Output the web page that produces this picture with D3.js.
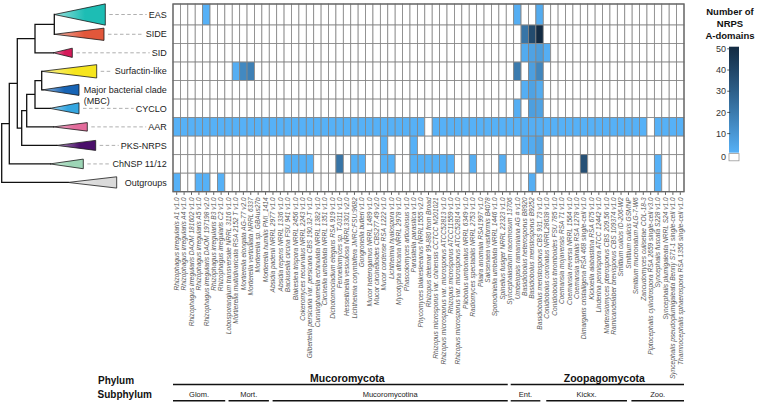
<!DOCTYPE html>
<html><head><meta charset="utf-8">
<script src="https://cdn.jsdelivr.net/npm/d3@7"></script>
<style>
body{margin:0;background:#fff}
svg{display:block;font-family:"Liberation Sans",Arial,Helvetica,sans-serif}
</style>
</head><body>
<svg id="chart" width="757" height="404"></svg>
<script>
// ---------------- DATA ----------------
const clades = ["EAS","SIDE","SID","Surfactin-like","Major bacterial clade|(MBC)","CYCLO","AAR","PKS-NRPS","ChNSP 11/12","Outgroups"];
const cladeColors = ["#1dbdb4","#e2573b","#d51b5a","#f6e51d","#1764b5","#35a6e0","#e36c9c","#4a0f6a","#9dd5b6","#dadada"];

const genomes = [
"Rhizophagus irregularis A1 v1.0","Rhizophagus irregularis A4 v1.0","Rhizophagus irregularis DAOM 181602 v1.0",
"Rhizophagus irregularis A5 v1.0","Rhizophagus irregularis DAOM 197198 v2.0","Rhizophagus irregularis B3 v1.0",
"Rhizophagus irregularis C2 v1.0","Lobosporangium transversale NRRL 3116 v1.0","Mortierella multidivaricata RSA 2152 T v1.0",
"Mortierella elongata AG-77 v2.0","Mortierella verticillata NRRL 6337","Mortierella sp. GBAus27b",
"Mortierella humilis PMI_1414","Absidia padenii NRRL 2977 v1.0","Absidia repens NRRL 1336 v1.0",
"Backusella circina FSU 941 v1.0","Blakeslea trispora NRRL 2456 v1.0","Cokeromyces recurvatus NRRL 2243 v1.0",
"Gilbertella persicaria var. persicaria CBS 190.32-T v1.0","Cunninghamella echinulata NRRL 1382 v1.0","Circinella umbellata NRRL 1351 v1.0",
"Dichotomocladium elegans RSA 919 v1.0","Fennellomyces sp. T-0311 v1.0","Hesseltinella vesiculosa NRRL3301 v2.0",
"Lichtheimia corymbifera JMRC:FSU:9682","Gongronella butleri v1.0","Mucor heterogamus NRRL 1489 v1.0",
"Mucor circinelloides CBS277.49 v2.0","Mucor cordense RSA 1222 v1.0","Lichtheimia hyalospora v1.0",
"Mycotypha africana NRRL 2978 v1.0","Phascolomyces articulosus v1.0","Parasitella parasitica v1.0",
"Phycomyces blakesleeanus NRRL1555 v2.0","Rhizopus delemar 99-880 from Broad","Rhizopus microsporus var. chinensis CCTCC M201021",
"Rhizopus microsporus var. microsporus ATCC52813 v1.0","Rhizopus microsporus ATCC11559 v1.0","Rhizopus microsporus var. microsporus ATCC52814 v1.0",
"Pilobolus umbonatus NRRL 6349 v1.0","Radiomyces spectabilis NRRL 2753 v1.0","Pilaira anomala RSA1997 v1.0",
"Saksenaea vasiformis B4078","Sporodiniella umbellata NRRL 1446 v1.0","Spinellus fusiger NRRL 22323 v1.0",
"Syncephalastrum racemosum 13706","Umbelopsis ramanniana AG # v1.0","Basidiobolus heterosporus B8920",
"Basidiobolus meristosporus B9252","Basidiobolus meristosporus CBS 931.73 v1.0","Conidiobolus coronatus NRRL28638 v1.0",
"Conidiobolus thromboides FSU 785 v1.0","Coemansia mojavensis RSA 71 v1.0","Coemansia reversa NRRL 1564 v1.0",
"Coemansia spiralis RSA 1278 v1.0","Dimargaris cristalligena RSA 468 single-cell v1.0","Kickxella alabastrina RSA 675 v1.0",
"Linderina pennispora ATCC 12442 v1.0","Martensiomyces pterosporus CBS 209.56 v1.0","Ramicandelaber brevisporus CBS 109374 v1.0",
"Smittium culicis ID-206-W2","Smittium culicis GSMNP","Smittium mucronatum ALG-7-W6",
"Zancudomyces culisetae COL-18-3","Piptocephalis cylindrospora RSA 2659 single-cell v3.0","Syncephalis fuscata S228 v1.0",
"Syncephalis plumigaleata NRRL S24 v1.0","Syncephalis pseudoplumigaleata Benny S71-1 single-cell v1.0","Thamnocephalis sphaerospora RSA 1356 single-cell v1.0"
];

// number of NRPS A-domains per clade (rows) and genome (columns, 69 each)
const valEAS   = [0,0,0,0,1,0,0,0,0,0, 0,0,0,0,0,0,0,0,0,0, 0,0,0,0,0,0,0,0,0,0, 0,0,0,0,0,0,0,0,0,0, 0,0,0,0,0,0,2,0,0,3, 0,0,0,0,0,0,0,0,0,0, 0,0,0,0,0,0,0,0,0];
const valSIDE  = [0,0,0,0,0,0,0,0,0,0, 0,0,0,0,0,0,0,0,0,0, 0,0,0,0,0,0,0,0,0,0, 0,0,0,0,0,0,0,0,0,0, 0,0,0,0,0,0,0,22,38,51, 0,0,0,0,0,0,0,0,0,0, 0,0,0,0,0,0,0,0,0];
const valSID   = [0,0,0,0,0,0,0,0,0,0, 0,0,0,0,0,0,0,0,0,0, 0,0,0,0,0,0,0,0,0,0, 0,0,0,0,0,0,0,0,0,0, 0,0,0,0,0,0,0,3,6,8, 2,0,0,0,0,0,0,0,0,0, 0,0,0,0,0,0,0,0,0];
const valSURF  = [0,0,0,0,0,0,0,0,2,15, 18,0,0,0,0,0,0,0,0,0, 0,0,0,0,0,0,0,0,0,0, 0,0,0,0,0,0,0,0,0,0, 0,0,0,0,0,0,20,0,7,16, 0,0,0,0,0,0,0,0,0,0, 0,0,0,0,0,0,0,0,0];
const valMBC   = [0,0,0,0,0,0,0,0,0,0, 0,0,0,0,0,0,0,0,0,0, 0,0,0,0,0,0,0,0,0,0, 0,0,0,0,0,0,0,0,0,0, 0,0,0,0,0,0,0,2,6,3, 0,0,0,0,0,0,0,0,0,0, 0,0,0,0,0,0,0,0,0];
const valCYCLO = [0,0,0,0,0,0,0,0,0,0, 0,0,0,0,0,0,0,0,0,0, 0,0,0,0,0,0,0,0,0,0, 0,0,0,0,0,0,0,0,0,0, 0,0,0,0,0,0,2,0,7,6, 0,0,0,0,0,0,0,0,0,0, 0,0,0,0,0,0,0,0,0];
const valAAR   = [1,1,1,1,1,1,1,1,1,1, 1,1,1,1,1,1,1,1,1,1, 1,1,1,1,1,1,1,1,1,1, 1,1,1,1,0,1,1,1,1,1, 1,1,1,1,1,1,1,2,2,2, 1,1,1,1,1,1,1,1,1,1, 1,1,1,1,0,1,1,1,1];
const valPKS   = [0,0,0,0,0,0,0,0,0,0, 0,0,0,0,0,0,0,0,0,0, 0,0,0,0,0,0,0,0,1,0, 0,0,1,0,0,0,0,0,0,0, 0,0,0,0,0,0,0,2,3,6, 0,0,0,0,0,0,0,0,0,0, 0,0,0,0,0,0,0,0,0];
const valCHNSP = [0,0,0,0,0,0,0,0,0,0, 0,0,0,0,0,1,1,1,1,0, 0,0,22,0,1,1,0,0,1,1, 0,0,1,1,1,1,1,1,0,0, 2,0,0,0,2,0,0,0,0,6, 0,0,0,0,0,36,0,0,0,0, 0,0,0,0,0,1,0,0,0];
const valOUT   = [1,0,0,1,1,0,1,0,0,0, 0,0,0,0,0,0,0,0,0,0, 0,0,0,0,0,0,0,0,0,0, 0,0,0,0,0,0,0,0,0,0, 0,0,0,0,0,0,0,0,2,0, 0,0,0,0,0,0,0,0,0,0, 0,0,0,0,0,1,0,0,0];
const rowValues = [valEAS,valSIDE,valSID,valSURF,valMBC,valCYCLO,valAAR,valPKS,valCHNSP,valOUT];

const legendTicks = [0,10,20,30,40,50];
const legendTitle = ["Number of","NRPS","A-domains"];

const phyla = ["Mucoromycota","Zoopagomycota"];
const phylumSpans = [[0,45.2],[45.6,69]];          // in genome-column units
const subphyla = ["Glom.","Mort.","Mucoromycotina","Ent.","Kickx.","Zoo."];
const subphylumSpans = [[0,7.05],[7.5,12.95],[13.45,45.2],[45.6,49.6],[50.4,61.3],[61.9,69]];

// tree: branch lengths (len), collapsed clade depth (span) and relative clade height (size)
const tree = {len:0, children:[
  {len:7.6, children:[
    {len:8, children:[
      {len:17.7, children:[
        {len:19.3, children:[
          {clade:0, len:0, span:51, size:1.15},
          {clade:1, len:0, span:49.7, size:0.66}]},
        {clade:2, len:18.3, span:19, size:0.5}]},
      {len:4.4, children:[
        {len:5, children:[
          {len:8.3, children:[
            {len:6.7, children:[
              {clade:3, len:0, span:55, size:0.72},
              {clade:4, len:1, span:36.3, size:0.6}]},
            {clade:5, len:15, span:29, size:0.6}]},
          {clade:6, len:26.6, span:34, size:0.46}]},
        {clade:7, len:35, span:39, size:0.54}]}]},
    {clade:8, len:40.7, span:33.3, size:0.52}]},
  {clade:9, len:66.3, span:48.7, size:0.61}]};

// ---------------- CHART ----------------
const svg = d3.select("#chart");
const defs = svg.append("defs");

const hmLeft = 173, hmRight = 684, hmTop = 4, hmBottom = 191.7;
const x = d3.scaleBand().domain(d3.range(genomes.length)).range([hmLeft, hmRight]);
const y = d3.scaleBand().domain(d3.range(clades.length)).range([6.5, hmBottom]);
const colX = d3.scaleLinear().domain([0, genomes.length]).range([hmLeft, hmRight]);
const color = d3.scaleSequential(d3.interpolateLab("#56B1F7", "#132B43")).domain([1, 51]);

const rowTop = r => r === 0 ? hmTop : y(r);
const rowH = r => y(r) + y.bandwidth() - rowTop(r);
const rowMid = r => rowTop(r) + rowH(r) / 2;

// heatmap cells
const cells = [];
rowValues.forEach((vals, r) => vals.forEach((v, c) => cells.push({r, c, v})));
svg.append("g").selectAll("rect").data(cells).join("rect")
  .attr("x", d => x(d.c)).attr("y", d => rowTop(d.r))
  .attr("width", x.bandwidth()).attr("height", d => rowH(d.r))
  .attr("fill", d => d.v > 0 ? color(d.v) : "#ffffff")
  .attr("stroke", "#858585").attr("stroke-width", 0.8);
svg.append("rect").attr("x", hmLeft).attr("y", hmTop)
  .attr("width", hmRight - hmLeft).attr("height", hmBottom - hmTop)
  .attr("fill", "none").attr("stroke", "#666").attr("stroke-width", 1.3);

// x axis with genome labels
const ax = svg.append("g").attr("transform", `translate(0,${hmBottom + 0.6})`)
  .call(d3.axisBottom(x).tickSize(2.6).tickPadding(2).tickFormat(i => genomes[i]));
ax.select(".domain").remove();
ax.selectAll(".tick line").attr("stroke", "#333").attr("stroke-width", 0.8);
ax.selectAll(".tick text")
  .attr("transform", "rotate(-90)").attr("text-anchor", "end")
  .attr("x", -5).attr("y", 0).attr("dy", "0.35em")
  .attr("font-size", 6.6).attr("font-style", "italic").attr("fill", "#5a5a5a")
  .attr("font-family", "Liberation Sans, Arial, sans-serif");

// ---------------- TREE ----------------
const root = d3.hierarchy(tree);
root.eachBefore(d => d.pos = (d.parent ? d.parent.pos : 0) + d.data.len);
root.eachAfter(d => {
  if (d.children) d.yy = (d.children[0].yy + d.children[d.children.length - 1].yy) / 2;
  else d.yy = rowMid(d.data.clade);
});
const tx = d3.scaleLinear().domain([0, 115]).range([1.7, 116.7]);
const bw = y.bandwidth();

const tg = svg.append("g");
root.leaves().forEach(d => {
  const c = d.data.clade, col = cladeColors[c];
  const g = defs.append("linearGradient").attr("id", "grad" + c)
    .attr("x1", 0).attr("x2", 1).attr("y1", 0).attr("y2", 0);
  g.append("stop").attr("offset", 0).attr("stop-color", d3.interpolateRgb("#ffffff", col)(0.45));
  g.append("stop").attr("offset", 0.6).attr("stop-color", col);
  g.append("stop").attr("offset", 1).attr("stop-color", col);
  const ax0 = tx(d.pos), ax1 = tx(d.pos + d.data.span), h = d.data.size * bw / 2;
  tg.append("path")
    .attr("d", `M${ax0},${d.yy}L${ax1},${d.yy - h}L${ax1},${d.yy + h}Z`)
    .attr("fill", `url(#grad${c})`).attr("stroke", "#1a1a1a").attr("stroke-width", 0.8)
    .attr("stroke-linejoin", "round");
});
const links = [];
root.descendants().forEach(d => {
  if (d.parent) links.push(`M${tx(d.parent.pos)},${d.yy}H${tx(d.pos)}`);
  if (d.children) links.push(`M${tx(d.pos)},${d.children[0].yy}V${d.children[d.children.length - 1].yy}`);
});
tg.append("path").attr("d", links.join("")).attr("fill", "none")
  .attr("stroke", "#111").attr("stroke-width", 1.3).attr("stroke-linecap", "square");

// clade labels + dashed leaders
const labelRight = 166.7;
root.leaves().forEach(d => {
  const c = d.data.clade;
  const lines = clades[c].split("|");
  const t = svg.append("text").attr("x", labelRight).attr("y", d.yy).attr("dy", "0.35em")
    .attr("text-anchor", "end").attr("font-size", 9).attr("fill", "#222").text(lines[0]);
  const w = t.node().getComputedTextLength();
  const start = labelRight - w;
  if (lines[1]) {
    svg.append("text").attr("x", start).attr("y", d.yy + 10.7).attr("dy", "0.35em")
      .attr("font-size", 9).attr("fill", "#222").text(lines[1]);
  }
  const triEnd = tx(d.pos + d.data.span);
  if (start - triEnd > 15) {
    svg.append("line").attr("x1", triEnd + 4).attr("x2", start - 2)
      .attr("y1", d.yy).attr("y2", d.yy)
      .attr("stroke", "#9a9a9a").attr("stroke-width", 0.8).attr("stroke-dasharray", "3.5,2.5");
  }
});

// ---------------- LEGEND ----------------
const lgX = 729, lgW = 10;
const ly = d3.scaleLinear().domain([1, 51]).range([152.7, 46.7]);
const lg = defs.append("linearGradient").attr("id", "lgrad")
  .attr("x1", 0).attr("x2", 0).attr("y1", 1).attr("y2", 0);
d3.range(0, 1.0001, 0.1).forEach(t => lg.append("stop").attr("offset", t)
  .attr("stop-color", color(1 + t * 50)));
svg.append("rect").attr("x", lgX).attr("y", ly(51)).attr("width", lgW)
  .attr("height", ly(1) - ly(51)).attr("fill", "url(#lgrad)");
svg.append("rect").attr("x", lgX).attr("y", 153.6).attr("width", lgW).attr("height", 7.2)
  .attr("fill", "#fff").attr("stroke", "#999").attr("stroke-width", 0.8);
legendTicks.forEach(v => {
  const yy = v === 0 ? 157.2 : ly(v);
  if (v > 0) svg.append("line").attr("x1", lgX - 1.8).attr("x2", lgX + 1.2)
    .attr("y1", yy).attr("y2", yy).attr("stroke", "#333").attr("stroke-width", 0.8);
  svg.append("text").attr("x", 726).attr("y", yy).attr("dy", "0.35em")
    .attr("text-anchor", "end").attr("font-size", 9).attr("fill", "#333").text(v);
});
legendTitle.forEach((s, i) => svg.append("text").attr("x", 730).attr("y", 15 + i * 12)
  .attr("text-anchor", "middle").attr("font-size", 9.5).attr("font-weight", "bold")
  .attr("fill", "#111").text(s));

// ---------------- PHYLUM / SUBPHYLUM ----------------
svg.append("text").attr("x", 98).attr("y", 384).attr("font-size", 10)
  .attr("font-weight", "bold").attr("fill", "#111").text("Phylum");
svg.append("text").attr("x", 97.5).attr("y", 398).attr("font-size", 10)
  .attr("font-weight", "bold").attr("fill", "#111").text("Subphylum");
phyla.forEach((p, i) => {
  const [a, b] = phylumSpans[i];
  svg.append("line").attr("x1", colX(a)).attr("x2", colX(b)).attr("y1", 384.5).attr("y2", 384.5)
    .attr("stroke", "#111").attr("stroke-width", 1.4);
  svg.append("text").attr("x", (colX(a) + colX(b)) / 2 + 7).attr("y", 381.5)
    .attr("text-anchor", "middle").attr("font-size", 10.5).attr("font-weight", "bold")
    .attr("fill", "#111").text(p);
});
subphyla.forEach((p, i) => {
  const [a, b] = subphylumSpans[i];
  svg.append("line").attr("x1", colX(a)).attr("x2", colX(b)).attr("y1", 400.8).attr("y2", 400.8)
    .attr("stroke", "#111").attr("stroke-width", 1.4);
  svg.append("text").attr("x", (colX(a) + colX(b)) / 2).attr("y", 397.2)
    .attr("text-anchor", "middle").attr("font-size", 7.5).attr("fill", "#222").text(p);
});
</script>
</body></html>
